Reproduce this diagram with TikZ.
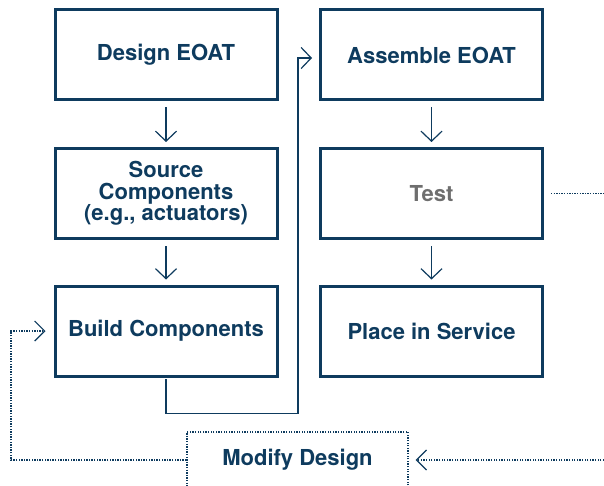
\documentclass[tikz,border=0pt]{standalone}
\usepackage{fontspec}
\setmainfont{TeX Gyre Heros}
\usetikzlibrary{arrows.meta}
\definecolor{navy}{HTML}{0E3B5E}
\definecolor{testgray}{HTML}{6E6E6E}
\begin{document}
\begin{tikzpicture}[x=1pt,y=-1pt,
  stepbox/.style={draw=navy, line width=3pt, minimum width=222pt, minimum height=90pt,
    inner sep=0pt, text=navy, font=\fontsize{22}{21.5}\selectfont\bfseries, align=center},
  flow/.style={draw=navy, line width=1.2pt, -{Straight Barb[length=10pt,width=21pt,line width=1.2pt]}},
  dotline/.style={draw=navy, line width=1.3pt, dash pattern=on 1.3pt off 1.3pt},
  dotflow/.style={dotline, -{Straight Barb[length=10pt,width=20pt,line width=1.2pt]}}
]
\clip (0,0) rectangle (604,486);
\node[stepbox] (design) at (166,55) {Design EOAT};
\node[stepbox] (source) at (166,193.5) {Source\\Components\\(e.g., actuators)};
\node[stepbox] (build) at (166,331) {Build Components};
\node[stepbox] (assemble) at (431.5,55) {Assemble EOAT};
\node[stepbox, text=testgray] (test) at (431.5,193.5) {Test};
\node[stepbox] (place) at (431.5,331) {Place in Service};
\node[draw=navy, line width=1.3pt, dash pattern=on 1.3pt off 1.3pt, minimum width=221pt, minimum height=56pt,
  inner sep=0pt, text=navy, font=\fontsize{22}{21.5}\selectfont\bfseries] (modify) at (297.5,460) {Modify Design};
\coordinate (testout) at (604,193.5);
\coordinate (modin) at (604,460);

\draw[flow, shorten <=6pt, shorten >=5pt] (design) -- (source);
\draw[flow, shorten <=6pt, shorten >=5pt] (source) -- (build);
\draw[flow, shorten <=6pt, shorten >=5pt] (assemble) -- (test);
\draw[flow, shorten <=6pt, shorten >=5pt] (test) -- (place);
\draw[flow, shorten <=1.5pt, shorten >=7pt] (build.south) -- ++(0,36) -| (298,58) -- (assemble.west |- 0,58);
\draw[dotline, shorten <=7pt] (test.east) -- (testout);
\draw[dotflow, shorten >=7pt] (modin) -- (modify.east);
\draw[dotflow, shorten >=8pt] (modify.west) -| (11,331) -- (build.west);
\end{tikzpicture}
\end{document}
